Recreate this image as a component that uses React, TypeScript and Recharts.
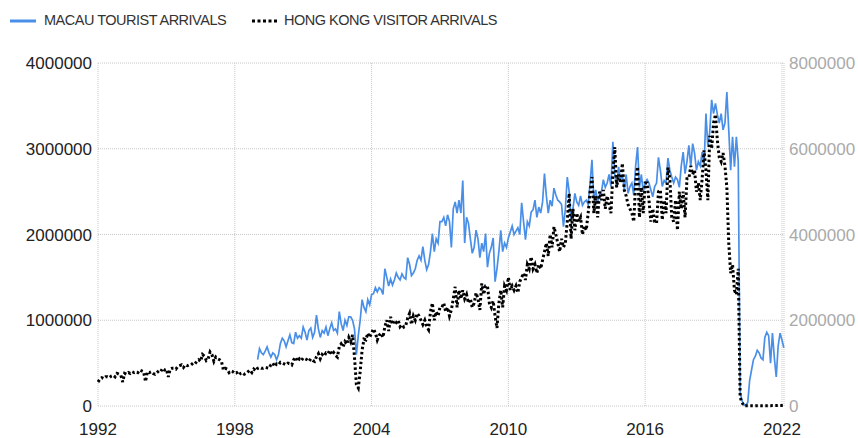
import { LineChart, Line, XAxis, YAxis, CartesianGrid } from 'recharts';

// monthly arrivals in thousands; first HK value is Dec 1991, first Macau value is Dec 1998
const hkVisitorArrivals = [
  560,
  620, 660, 640, 680, 680, 660, 700, 720, 680, 760, 740, 720, // 1992
  560, 760, 740, 780, 760, 800, 780, 800, 780, 840, 820, 800, // 1993
  570, 800, 780, 800, 760, 740, 780, 820, 800, 880, 840, 860, // 1994
  680, 860, 880, 880, 860, 920, 940, 960, 900, 960, 940, 960, // 1995
  960, 1000, 980, 1040, 1080, 1040, 1200, 1160, 1060, 1100, 1260, 1200, // 1996
  1040, 1140, 1100, 1080, 1040, 840, 880, 860, 780, 820, 800, 760, // 1997
  780, 720, 760, 780, 740, 760, 800, 840, 780, 860, 820, 880, // 1998
  900, 880, 880, 900, 890, 880, 960, 1000, 920, 980, 960, 1020, // 1999
  1000, 980, 960, 1000, 990, 960, 1080, 1140, 1040, 1100, 1060, 1120, // 2000
  1100, 1080, 1040, 1100, 1060, 1040, 1150, 1220, 1100, 1200, 1160, 1240, // 2001
  1220, 1300, 1200, 1250, 1180, 1140, 1380, 1450, 1380, 1500, 1440, 1600, // 2002
  1500, 1660, 1140, 500, 420, 800, 1300, 1560, 1540, 1700, 1600, 1700, // 2003
  1800, 1700, 1540, 1650, 1700, 1600, 1850, 2000, 1750, 2080, 1900, 2000, // 2004
  1950, 2000, 1850, 1900, 1840, 1880, 2050, 2160, 1900, 2100, 2000, 2160, // 2005
  2100, 2000, 1900, 2000, 1850, 1780, 2200, 2400, 2000, 2200, 2100, 2300, // 2006
  2300, 2400, 2200, 2300, 2100, 2240, 2500, 2780, 2300, 2700, 2500, 2700, // 2007
  2500, 2600, 2400, 2500, 2300, 2400, 2640, 2500, 2240, 2860, 2600, 2800, // 2008
  2800, 2400, 2300, 2450, 2100, 1820, 2400, 2700, 2300, 2800, 2700, 3000, // 2009
  2700, 2800, 2700, 2800, 2640, 2900, 3000, 3100, 2940, 3300, 3200, 3480, // 2010
  3200, 3300, 3100, 3300, 3200, 3400, 3600, 3800, 3500, 4000, 3700, 4180, // 2011
  4000, 3800, 3600, 3900, 3700, 3800, 4300, 4960, 3900, 4600, 4100, 4500, // 2012
  4300, 4400, 4000, 4200, 4100, 4500, 5000, 5340, 4500, 4900, 4400, 5000, // 2013
  4800, 5040, 4600, 4900, 4700, 4500, 5420, 6040, 5100, 5400, 5200, 5660, // 2014
  5040, 4900, 4700, 4600, 4500, 4300, 5200, 5580, 4400, 5100, 4500, 5200, // 2015
  5200, 4800, 4300, 4600, 4300, 4260, 5000, 5040, 4340, 4800, 4500, 5560, // 2016
  5300, 4400, 4300, 4800, 4100, 5000, 4600, 5000, 4400, 5300, 5300, 5600, // 2017
  5400, 5500, 5000, 5200, 4800, 5300, 5960, 5500, 4800, 6300, 6000, 6600, // 2018
  6800, 6200, 5800, 5700, 5900, 5600, 5100, 3800, 3100, 3300, 2700, 2600, // 2019
  3200, 200, 80, 4, 4, 4, 3, 4, 3, 6, 7, 7, // 2020
  4, 4, 7, 8, 8, 8, 9, 9, 10, 11, 10, 10, // 2021
  10, // 2022
];

const macauTouristArrivals = [
  540,
  670, 620, 600, 640, 690, 620, 570, 620, 600, 540, 600, 730, // 1999
  790, 760, 690, 760, 830, 740, 730, 860, 790, 820, 790, 920, // 2000
  860, 770, 880, 910, 800, 860, 1060, 900, 800, 880, 850, 920, // 2001
  820, 900, 970, 880, 900, 850, 1100, 960, 880, 1000, 940, 1040, // 2002
  1040, 1000, 900, 600, 820, 1000, 1240, 1150, 1100, 1240, 1180, 1300, // 2003
  1310, 1380, 1330, 1380, 1360, 1300, 1600, 1500, 1400, 1480, 1410, 1470, // 2004
  1550, 1500, 1470, 1540, 1500, 1480, 1730, 1650, 1520, 1550, 1600, 1700, // 2005
  1750, 1700, 1860, 1700, 1590, 1650, 1800, 2010, 1800, 1950, 1900, 2150, // 2006
  2150, 2200, 2100, 2230, 2150, 1850, 2300, 2380, 2250, 2400, 2250, 2630, // 2007
  1900, 2200, 2130, 1950, 1780, 1850, 2050, 1950, 1730, 1900, 1800, 2010, // 2008
  1620, 1780, 1850, 1960, 1450, 1600, 1800, 2050, 1800, 1900, 1850, 1960, // 2009
  2030, 2100, 2000, 2040, 2080, 2000, 2370, 2150, 1940, 2150, 2100, 2260, // 2010
  2290, 2400, 2200, 2320, 2250, 2380, 2710, 2450, 2250, 2400, 2330, 2540, // 2011
  2460, 2400, 2380, 2350, 2090, 2300, 2670, 2500, 2170, 2300, 2480, 2380, // 2012
  2340, 2450, 2340, 2380, 2400, 2350, 2600, 2870, 2400, 2520, 2380, 2460, // 2013
  2500, 2640, 2550, 2600, 2700, 2560, 3080, 2700, 2550, 2790, 2640, 2700, // 2014
  2520, 2700, 2480, 2560, 2600, 2460, 2800, 3020, 2550, 2700, 2500, 2600, // 2015
  2640, 2600, 2520, 2440, 2560, 2600, 2900, 2750, 2560, 2630, 2600, 2890, // 2016
  2750, 2670, 2600, 2670, 2640, 2550, 2800, 2960, 2710, 2850, 3040, 2790, // 2017
  3060, 2950, 2750, 2850, 2800, 2960, 2800, 3410, 3020, 3200, 3570, 3410, // 2018
  3530, 3400, 3300, 3410, 3220, 3300, 3660, 3220, 2750, 3140, 2790, 3140, // 2019
  2850, 160, 60, 10, 15, 40, 300, 420, 540, 580, 650, 620, // 2020
  560, 540, 800, 860, 820, 500, 850, 560, 340, 700, 850, 770, // 2021
  680, // 2022
];

const MACAU_OFFSET = 84; // Dec 1998 sits 84 months after Dec 1991

const yearTicks = [1992, 1998, 2004, 2010, 2016, 2022];
const leftTicks = [0, 1000000, 2000000, 3000000, 4000000];
const rightTicks = [0, 2000000, 4000000, 6000000, 8000000];

const rows = hkVisitorArrivals.map((v, i) => ({
  x: 1992 + i / 12,
  hk: v * 1000,
  macau: i >= MACAU_OFFSET ? macauTouristArrivals[i - MACAU_OFFSET] * 1000 : null,
}));

const FONT = '"Liberation Sans", Arial, sans-serif';
const BLUE = '#4a8fe7';

function Legend() {
  const text = { position: 'absolute' as const, top: 12, fontSize: 14.5, letterSpacing: -0.5, color: '#333', fontFamily: FONT };
  return (
    <>
      <svg style={{ position: 'absolute', left: 0, top: 0 }} width={300} height={40}>
        <line x1={10} y1={21} x2={36} y2={21} stroke={BLUE} strokeWidth={3} />
        <line x1={252} y1={21} x2={277} y2={21} stroke="#000" strokeWidth={3} strokeDasharray="3 2.5" />
      </svg>
      <div style={{ ...text, left: 44 }}>MACAU TOURIST ARRIVALS</div>
      <div style={{ ...text, left: 284 }}>HONG KONG VISITOR ARRIVALS</div>
    </>
  );
}

export default function App() {
  return (
    <div style={{ position: 'absolute', left: 0, top: 0, width: 858, height: 438, background: '#fff' }}>
      <Legend />
      <LineChart width={858} height={438} data={rows} margin={{ top: 63, right: 0, bottom: 2, left: 0 }}>
        <CartesianGrid yAxisId="left" stroke="#c8c8c8" strokeDasharray="1 1" />
        <XAxis
          dataKey="x"
          type="number"
          domain={[1992, 2022.09]}
          ticks={yearTicks}
          tickFormatter={(v: number) => String(Math.round(v))}
          axisLine={false}
          tickLine={false}
          tickSize={10}
          tickMargin={7}
          height={30}
          tick={{ fill: '#222', fontSize: 17, fontFamily: FONT }}
        />
        <YAxis
          yAxisId="left"
          domain={[0, 4000000]}
          ticks={leftTicks}
          tickFormatter={(v: number) => String(v)}
          axisLine={false}
          tickLine={false}
          tickSize={3}
          tickMargin={3}
          width={98}
          tick={{ fill: '#222', fontSize: 17, fontFamily: FONT }}
        />
        <YAxis
          yAxisId="right"
          orientation="right"
          domain={[0, 8000000]}
          ticks={rightTicks}
          tickFormatter={(v: number) => String(v)}
          axisLine={false}
          tickLine={false}
          tickSize={2}
          tickMargin={3}
          width={74}
          tick={{ fill: '#aaa', fontSize: 17, fontFamily: FONT, textAnchor: 'start' }}
        />
        <Line
          yAxisId="left"
          dataKey="macau"
          stroke={BLUE}
          strokeWidth={1.7}
          dot={false}
          isAnimationActive={false}
        />
        <Line
          yAxisId="right"
          dataKey="hk"
          stroke="#000"
          strokeWidth={3}
          strokeDasharray="2.5 2.5"
          dot={false}
          isAnimationActive={false}
        />
      </LineChart>
    </div>
  );
}
